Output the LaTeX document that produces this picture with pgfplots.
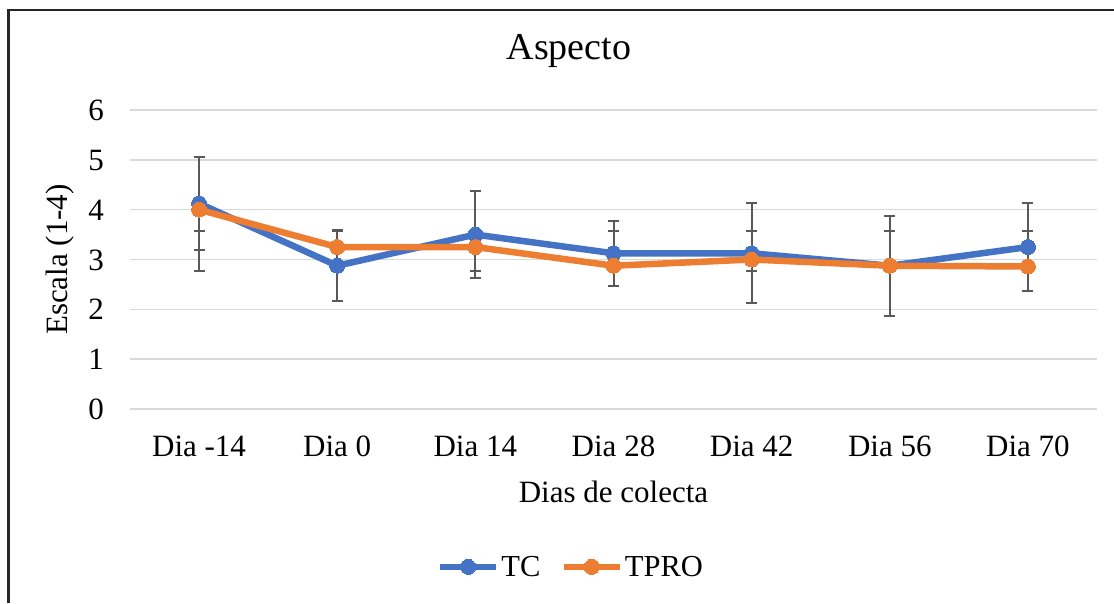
\documentclass[border=0pt]{standalone}
\usepackage{fontspec}
\setmainfont{Liberation Serif}
\usepackage{pgfplots}
\usepackage{pgfplotstable}
\pgfplotsset{compat=1.18}
\definecolor{tcblue}{HTML}{4472C4}
\definecolor{tproorange}{HTML}{ED7D31}
\definecolor{errgray}{HTML}{595959}
\definecolor{gridgray}{HTML}{D9D9D9}

\pgfplotstableread{
x y e
0 4.125 0.94
1 2.875 0.71
2 3.5 0.88
3 3.125 0.65
4 3.125 1.0
5 2.875 1.0
6 3.25 0.89
}\tctable

\pgfplotstableread{
x y ep em
0 4.0 -0.43 1.24
1 3.25 0.32 0.49
2 3.25 0.32 0.49
3 2.875 0.695 0.115
4 3.0 0.57 0.24
5 2.875 0.695 0.115
6 2.86 0.71 0.10
}\tprotable

\begin{document}
\begin{tikzpicture}
\path[use as bounding box] (0pt,0pt) rectangle (1114pt,603pt);
\draw[line width=2.5pt, color=black!85] (8.5pt,0pt) -- (8.5pt,593pt) -- (1114pt,593pt);
\begin{axis}[
  at={(130pt,194pt)}, anchor=south west,
  scale only axis, width=967pt, height=299pt,
  xmin=-0.5, xmax=6.5, ymin=0, ymax=6,
  xtick={0,1,2,3,4,5,6},
  xticklabels={Dia -14, Dia 0, Dia 14, Dia 28, Dia 42, Dia 56, Dia 70},
  ytick={0,1,2,3,4,5,6},
  axis line style={draw=none},
  major tick length=0pt,
  ymajorgrids, grid style={gridgray, line width=1.5pt},
  font=\fontsize{31}{37}\selectfont,
  /pgf/number format/assume math mode=true,
  ticklabel style={font=\fontsize{31}{37}\selectfont},
  xticklabel style={anchor=base, yshift=-47pt},
  yticklabel style={anchor=base east, inner sep=0pt, xshift=-26pt, yshift=-10.5pt},
  title={Aspecto},
  title style={font=\fontsize{38}{44}\selectfont, at={(axis description cs:0.454,1.1505)}, anchor=base, inner sep=0pt},
  xlabel={Dias de colecta},
  xlabel style={at={(axis description cs:0.5,-0.278)}, anchor=center},
  ylabel={Escala (1-4)},
  ylabel style={at={(axis description cs:-0.0724,0.5)}, anchor=center},
  legend columns=2,
  legend style={at={(axis description cs:0.456,-0.528)}, anchor=center, draw=none, fill=none,
    nodes={inner sep=2pt}, font=\fontsize{30.5}{36}\selectfont,
    /tikz/every even column/.append style={column sep=18pt}},
  legend image code/.code={\draw[mark repeat=2, mark phase=2, #1] plot coordinates {(0pt,0pt) (28pt,0pt) (56pt,0pt)};},
]
\addplot[draw=none, no marks, forget plot,
  error bars/.cd, y dir=both, y explicit,
  error bar style={draw=errgray, line width=2pt},
  error mark options={rotate=90, draw=errgray, mark size=5.5pt, line width=2pt}]
  table[x=x, y=y, y error=e] {\tctable};
\addplot[draw=none, no marks, forget plot,
  error bars/.cd, y dir=both, y explicit,
  error bar style={draw=errgray, line width=2pt},
  error mark options={rotate=90, draw=errgray, mark size=5.5pt, line width=2pt}]
  table[x=x, y=y, y error plus=ep, y error minus=em] {\tprotable};
\addplot[tcblue, line width=6.5pt, line join=round, mark=*, mark size=7.5pt,
  mark options={fill=tcblue, draw=tcblue, line width=0pt}]
  table[x=x, y=y] {\tctable};
\addplot[tproorange, line width=6.5pt, line join=round, mark=*, mark size=7.5pt,
  mark options={fill=tproorange, draw=tproorange, line width=0pt}]
  table[x=x, y=y] {\tprotable};
\legend{TC, TPRO}
\end{axis}
\end{tikzpicture}
\end{document}
